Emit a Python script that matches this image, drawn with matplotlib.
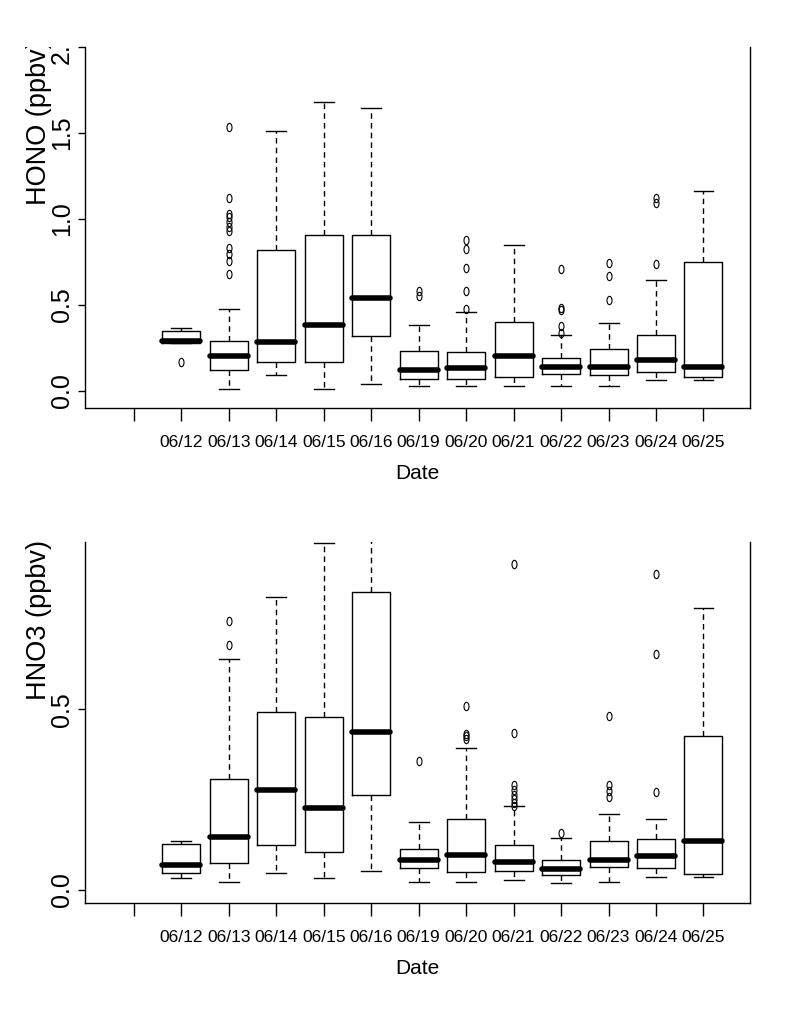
import matplotlib
matplotlib.use("Agg")
import matplotlib.pyplot as plt
from matplotlib.path import Path
from matplotlib.transforms import Affine2D, Bbox, TransformedBbox

# dates (first tick position is left empty, as in the original)
dates = ["06/12", "06/13", "06/14", "06/15", "06/16", "06/19",
         "06/20", "06/21", "06/22", "06/23", "06/24", "06/25"]

# HONO (ppbv) box statistics
hono_lo = [0.28, 0.01, 0.09, 0.01, 0.04, 0.03, 0.03, 0.03, 0.03, 0.03, 0.06, 0.06]
hono_q1 = [0.28, 0.12, 0.17, 0.17, 0.32, 0.07, 0.07, 0.08, 0.10, 0.09, 0.11, 0.08]
hono_med = [0.29, 0.205, 0.285, 0.384, 0.537, 0.12, 0.13, 0.20, 0.136, 0.136, 0.182, 0.141]
hono_q3 = [0.347, 0.29, 0.818, 0.905, 0.905, 0.231, 0.225, 0.40, 0.19, 0.242, 0.324, 0.75]
hono_hi = [0.365, 0.475, 1.51, 1.678, 1.643, 0.38, 0.457, 0.847, 0.324, 0.393, 0.643, 1.165]
hono_out = [[0.17],
            [1.537, 1.12, 1.03, 1.01, 0.98, 0.95, 0.93, 0.833, 0.795, 0.756, 0.68],
            [], [], [],
            [0.58, 0.55],
            [0.878, 0.824, 0.713, 0.581, 0.473],
            [],
            [0.707, 0.484, 0.469, 0.378, 0.339],
            [0.742, 0.669, 0.527],
            [1.124, 1.095, 0.736],
            []]

# HNO3 (ppbv) box statistics
hno3_lo = [0.032, 0.021, 0.046, 0.032, 0.052, 0.021, 0.021, 0.027, 0.018, 0.021, 0.035, 0.035]
hno3_q1 = [0.046, 0.074, 0.124, 0.104, 0.262, 0.06, 0.049, 0.052, 0.041, 0.063, 0.06, 0.043]
hno3_med = [0.067, 0.145, 0.277, 0.226, 0.436, 0.083, 0.095, 0.076, 0.058, 0.083, 0.092, 0.136]
hno3_q3 = [0.126, 0.307, 0.491, 0.477, 0.825, 0.113, 0.196, 0.124, 0.082, 0.135, 0.14, 0.425]
hno3_hi = [0.134, 0.64, 0.812, 0.96, 1.0, 0.187, 0.392, 0.232, 0.143, 0.21, 0.196, 0.78]
hno3_out = [[],
            [0.745, 0.679],
            [], [], [],
            [0.357],
            [0.51, 0.432, 0.425, 0.416],
            [0.903, 0.434, 0.291, 0.277, 0.263, 0.251, 0.24, 0.231],
            [0.157],
            [0.482, 0.291, 0.272, 0.258],
            [0.874, 0.654, 0.271],
            []]

plt.rcParams["font.family"] = ["Liberation Sans", "DejaVu Sans"]

# narrow oval marker for outliers
oval = Path.unit_circle().transformed(Affine2D().scale(0.6, 1.0))

W, H = 797, 1013
fig = plt.figure(figsize=(W / 100, H / 100), dpi=100)


def panel(rect, lo, q1, med, q3, hi, out, ylim, yticks, ylabel, top_px):
    ax = fig.add_axes(rect)
    stats = []
    for i in range(len(dates)):
        stats.append({"whislo": lo[i], "q1": q1[i], "med": med[i], "q3": q3[i],
                      "whishi": hi[i], "fliers": out[i], "label": dates[i]})
    pos = list(range(1, len(dates) + 1))
    ax.bxp(stats, positions=pos, widths=0.8, showfliers=True,
           boxprops=dict(color="black", linewidth=1.0),
           medianprops=dict(color="black", linewidth=4.0, solid_capstyle="round"),
           whiskerprops=dict(color="black", linewidth=1.0, linestyle=(0, (4, 3))),
           capprops=dict(color="black", linewidth=1.0),
           capwidths=0.42,
           flierprops=dict(marker=oval, markersize=6, markerfacecolor="none",
                           markeredgecolor="black", markeredgewidth=0.8))

    ax.set_xlim(-1.03, 12.98)
    ax.set_ylim(*ylim)
    ax.set_xticks(range(0, len(dates) + 1))
    ax.set_xticklabels([""] + dates, fontsize=12.5)
    ax.set_yticks(yticks)
    ax.set_yticklabels(["%.1f" % v for v in yticks], rotation=90, va="center",
                       fontsize=18)
    ax.tick_params(axis="x", length=9.5, width=1.0, pad=10)
    ax.tick_params(axis="y", length=5, width=1.0, pad=3)
    ax.spines["top"].set_visible(False)
    for s in ["left", "bottom", "right"]:
        ax.spines[s].set_linewidth(1.0)
    ax.set_xlabel("Date", fontsize=15, labelpad=10)

    # y label starts low and runs up; it is cut off at the top of the plot
    clip = TransformedBbox(Bbox([[0, 0], [1, 1 - top_px / H]]), fig.transFigure)
    bottom_px = top_px + 158
    t = fig.text(39 / W, 1 - bottom_px / H, ylabel, rotation=90, fontsize=19.5,
                 ha="left", va="center", rotation_mode="anchor")
    t.set_clip_box(clip)
    t.set_clip_on(True)
    for lab in ax.get_yticklabels():
        lab.set_clip_box(clip)
        lab.set_clip_on(True)
    return ax


# HONO panel
panel([85 / W, 1 - 408 / H, 665 / W, 361 / H],
      hono_lo, hono_q1, hono_med, hono_q3, hono_hi, hono_out,
      (-0.1, 2.0), [0.0, 0.5, 1.0, 1.5, 2.0], "HONO (ppbv)", 47)

# HNO3 panel
panel([85 / W, 1 - 903 / H, 665 / W, 361 / H],
      hno3_lo, hno3_q1, hno3_med, hno3_q3, hno3_hi, hno3_out,
      (-0.037, 0.963), [0.0, 0.5], "HNO3 (ppbv)", 542)

plt.savefig("out.png", dpi=100)
plt.close()
